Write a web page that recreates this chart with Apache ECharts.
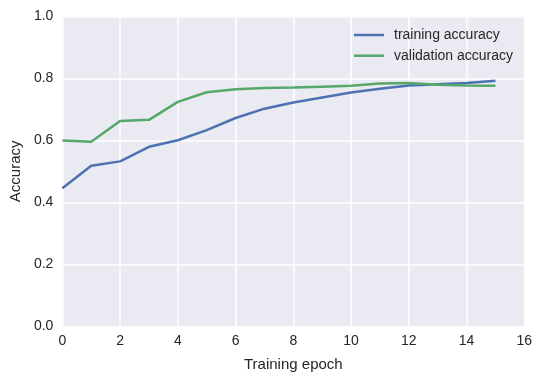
<!DOCTYPE html>
<html><head><meta charset="utf-8">
<script src="https://cdn.jsdelivr.net/npm/echarts@6/dist/echarts.min.js"></script>
<style>html,body{margin:0;padding:0;background:#fff}#c{width:542px;height:381px}</style>
</head><body><div id="c"></div>
<script>
const epochs = [0,1,2,3,4,5,6,7,8,9,10,11,12,13,14,15];
const trainingAccuracy = [0.445,0.518,0.532,0.579,0.600,0.633,0.672,0.702,0.722,0.738,0.754,0.766,0.777,0.781,0.785,0.792];
const validationAccuracy = [0.599,0.595,0.662,0.666,0.724,0.755,0.765,0.769,0.770,0.773,0.776,0.783,0.785,0.779,0.777,0.776];
const seriesNames = ['training accuracy','validation accuracy'];
const xLabel = 'Training epoch';
const yLabel = 'Accuracy';

const txt = '#262626';
const font = 'Liberation Sans, Arial, sans-serif';
const chart = echarts.init(document.getElementById('c'), null, {renderer:'canvas'});
chart.setOption({
  animation:false,
  grid:{left:60.5,right:17.7,top:16.3,bottom:54.7,show:true,backgroundColor:'#EAEAF2',borderWidth:0},
  legend:{
    orient:'vertical', left:354, top:27, padding:0, itemWidth:30, itemHeight:2.5, itemGap:4.7, icon:'rect',
    textStyle:{color:txt,fontSize:14,fontFamily:font,lineHeight:16,padding:[0,0,0,5]},
    data:seriesNames
  },
  xAxis:{
    type:'value', min:0, max:16, interval:2,
    name:xLabel, nameLocation:'middle', nameGap:31,
    nameTextStyle:{color:txt,fontSize:15,fontFamily:font},
    axisLine:{show:false}, axisTick:{show:false},
    axisLabel:{color:txt,fontSize:14,fontFamily:font,margin:8},
    splitLine:{show:true,lineStyle:{color:'#ffffff',width:1.5}}
  },
  yAxis:{
    type:'value', min:0, max:1, interval:0.2,
    name:yLabel, nameLocation:'middle', nameGap:37,
    nameTextStyle:{color:txt,fontSize:15,fontFamily:font},
    axisLine:{show:false}, axisTick:{show:false},
    axisLabel:{color:txt,fontSize:14,fontFamily:font,margin:9,formatter:v=>v.toFixed(1)},
    splitLine:{show:true,lineStyle:{color:'#ffffff',width:1.5}}
  },
  series:[
    {name:seriesNames[0],type:'line',symbol:'none',color:'#4C72B0',lineStyle:{width:2.5},
     data:epochs.map((e,i)=>[e,trainingAccuracy[i]])},
    {name:seriesNames[1],type:'line',symbol:'none',color:'#55A868',lineStyle:{width:2.5},
     data:epochs.map((e,i)=>[e,validationAccuracy[i]])}
  ]
});
</script></body></html>
